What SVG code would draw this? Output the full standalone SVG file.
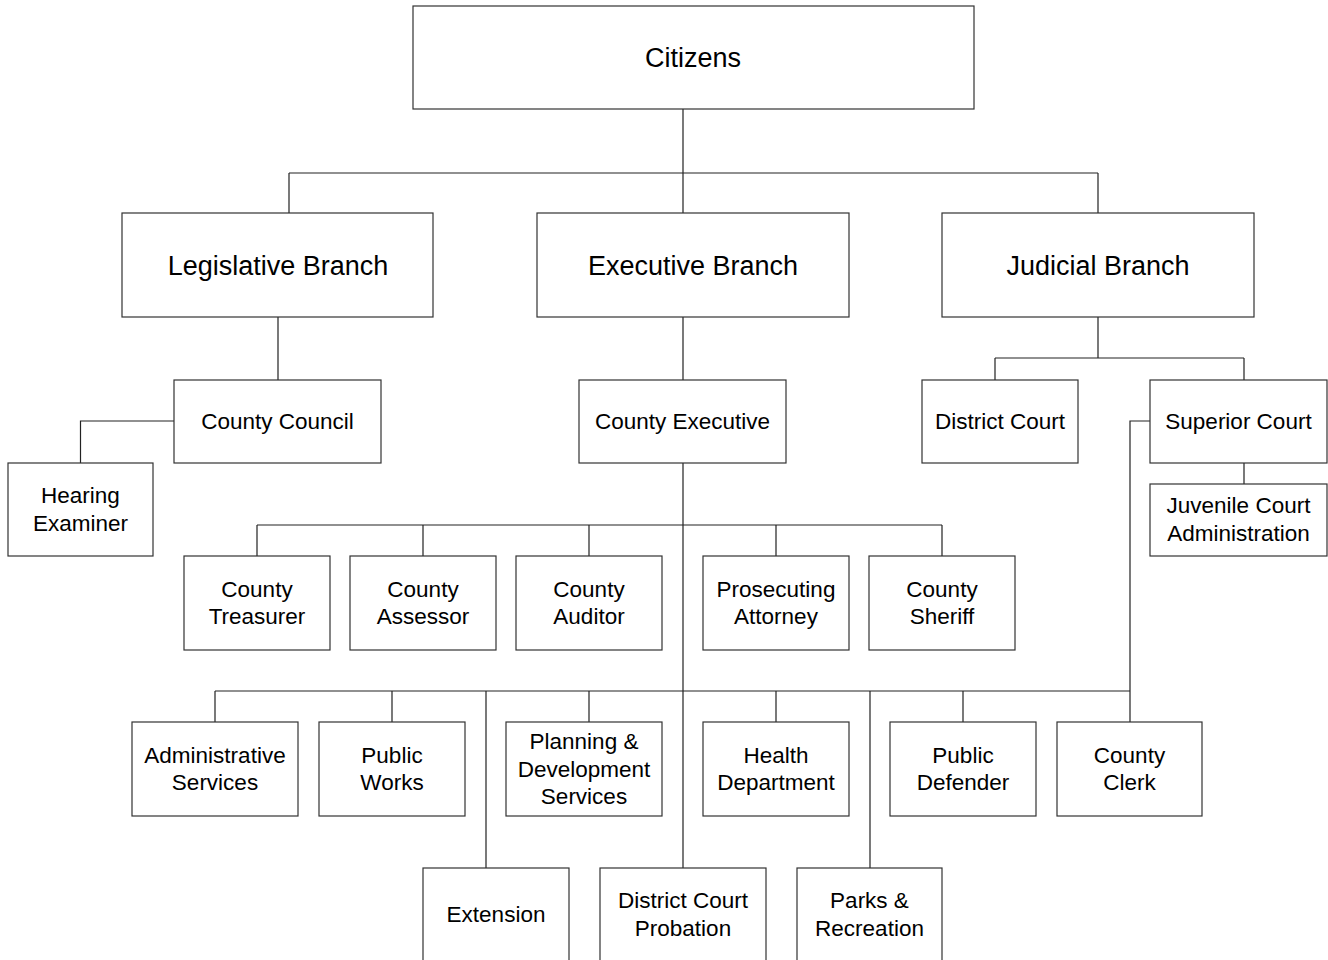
<svg xmlns="http://www.w3.org/2000/svg" width="1328" height="960" viewBox="0 0 1328 960">
<style>
.box{fill:#fff;stroke:#333;stroke-width:1.2}
.t{font-family:"Liberation Sans",Arial,sans-serif;font-size:22.5px;fill:#000;text-anchor:middle}
.big{font-size:27px}
.c{fill:none;stroke:#222;stroke-width:1.2}
</style>
<rect width="1328" height="960" fill="#fff"/>
<g id="connectors" class="c">
<path d="M683 109V173M289 173H1098M289 173V213M683 173V213M1098 173V213"/>
<path d="M278 317V380M174 421H80.5V463"/>
<path d="M683 317V380M683 463V868M257 525H942M257 525V556M423 525V556M589 525V556M776 525V556M942 525V556"/>
<path d="M215 691H1130M215 691V722M392 691V722M589 691V722M776 691V722M963 691V722M486 691V868M870 691V868"/>
<path d="M1098 317V358M995 358H1244M995 358V380M1244 358V380M1244 463V484M1150 421H1130V722"/>
</g>
<g id="citizens"><rect class="box" x="413" y="6" width="561" height="103"/><text class="t big" x="693" y="67">Citizens</text></g>
<g id="legislative"><rect class="box" x="122" y="213" width="311" height="104"/><text class="t big" x="278" y="275">Legislative Branch</text></g>
<g id="executive"><rect class="box" x="537" y="213" width="312" height="104"/><text class="t big" x="693" y="275">Executive Branch</text></g>
<g id="judicial"><rect class="box" x="942" y="213" width="312" height="104"/><text class="t big" x="1098" y="275">Judicial Branch</text></g>
<g id="county-council"><rect class="box" x="174" y="380" width="207" height="83"/><text class="t" x="277.5" y="429">County Council</text></g>
<g id="hearing-examiner"><rect class="box" x="8" y="463" width="145" height="93"/><text class="t" x="80.5" y="503">Hearing</text><text class="t" x="80.5" y="531">Examiner</text></g>
<g id="county-executive"><rect class="box" x="579" y="380" width="207" height="83"/><text class="t" x="682.5" y="429">County Executive</text></g>
<g id="district-court"><rect class="box" x="922" y="380" width="156" height="83"/><text class="t" x="1000" y="429">District Court</text></g>
<g id="superior-court"><rect class="box" x="1150" y="380" width="177" height="83"/><text class="t" x="1238.5" y="429">Superior Court</text></g>
<g id="juvenile-court"><rect class="box" x="1150" y="484" width="177" height="72"/><text class="t" x="1238.5" y="513">Juvenile Court</text><text class="t" x="1238.5" y="541">Administration</text></g>
<g id="county-treasurer"><rect class="box" x="184" y="556" width="146" height="94"/><text class="t" x="257" y="597">County</text><text class="t" x="257" y="624">Treasurer</text></g>
<g id="county-assessor"><rect class="box" x="350" y="556" width="146" height="94"/><text class="t" x="423" y="597">County</text><text class="t" x="423" y="624">Assessor</text></g>
<g id="county-auditor"><rect class="box" x="516" y="556" width="146" height="94"/><text class="t" x="589" y="597">County</text><text class="t" x="589" y="624">Auditor</text></g>
<g id="prosecuting-attorney"><rect class="box" x="703" y="556" width="146" height="94"/><text class="t" x="776" y="597">Prosecuting</text><text class="t" x="776" y="624">Attorney</text></g>
<g id="county-sheriff"><rect class="box" x="869" y="556" width="146" height="94"/><text class="t" x="942" y="597">County</text><text class="t" x="942" y="624">Sheriff</text></g>
<g id="administrative-services"><rect class="box" x="132" y="722" width="166" height="94"/><text class="t" x="215" y="763">Administrative</text><text class="t" x="215" y="790">Services</text></g>
<g id="public-works"><rect class="box" x="319" y="722" width="146" height="94"/><text class="t" x="392" y="763">Public</text><text class="t" x="392" y="790">Works</text></g>
<g id="planning"><rect class="box" x="506" y="722" width="156" height="94"/><text class="t" x="584" y="749">Planning &amp;</text><text class="t" x="584" y="777">Development</text><text class="t" x="584" y="804">Services</text></g>
<g id="health-department"><rect class="box" x="703" y="722" width="146" height="94"/><text class="t" x="776" y="763">Health</text><text class="t" x="776" y="790">Department</text></g>
<g id="public-defender"><rect class="box" x="890" y="722" width="146" height="94"/><text class="t" x="963" y="763">Public</text><text class="t" x="963" y="790">Defender</text></g>
<g id="county-clerk"><rect class="box" x="1057" y="722" width="145" height="94"/><text class="t" x="1129.5" y="763">County</text><text class="t" x="1129.5" y="790">Clerk</text></g>
<g id="extension"><rect class="box" x="423" y="868" width="146" height="100"/><text class="t" x="496" y="922">Extension</text></g>
<g id="district-court-probation"><rect class="box" x="600" y="868" width="166" height="100"/><text class="t" x="683" y="908">District Court</text><text class="t" x="683" y="936">Probation</text></g>
<g id="parks-recreation"><rect class="box" x="797" y="868" width="145" height="100"/><text class="t" x="869.5" y="908">Parks &amp;</text><text class="t" x="869.5" y="936">Recreation</text></g>
</svg>
